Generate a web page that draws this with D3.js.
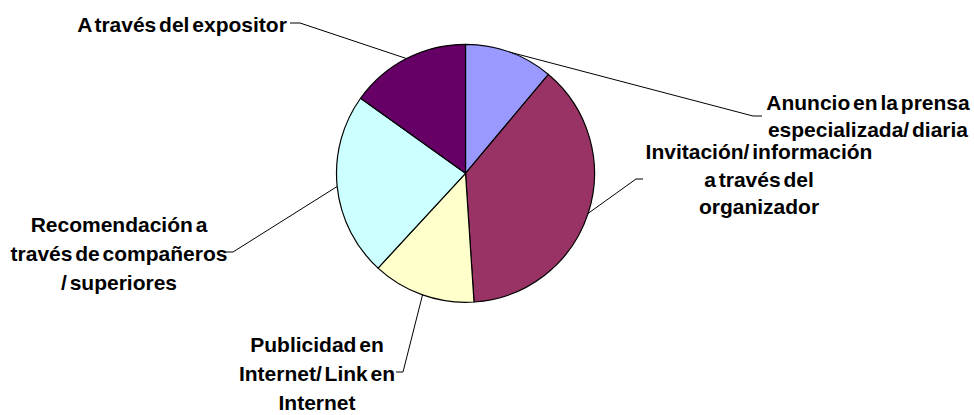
<!DOCTYPE html>
<html>
<head>
<meta charset="utf-8">
<script src="https://cdn.jsdelivr.net/npm/d3@7"></script>
<style>
  html, body { margin: 0; padding: 0; background: #fff; }
  svg { display: block; }
  text { font-family: "Liberation Sans", Arial, sans-serif; font-weight: bold; font-size: 21px; word-spacing: -3px; fill: #000; }
</style>
</head>
<body>
<svg id="chart" width="974" height="415"></svg>
<script>
// ---- data (clockwise from 12 o'clock) ----
const categories = [
  "Anuncio en la prensa especializada/ diaria",
  "Invitación/ información a través del organizador",
  "Publicidad en Internet/ Link en Internet",
  "Recomendación a través de compañeros / superiores",
  "A través del expositor"
];
const values = [11.1, 37.8, 12.9, 23.0, 15.1];
const labelLines = [
  ["Anuncio en la prensa", "especializada/ diaria"],
  ["Invitación/ información", "a través del", "organizador"],
  ["Publicidad en", "Internet/ Link en", "Internet"],
  ["Recomendación a", "través de compañeros", "/ superiores"],
  ["A través del expositor"]
];
const colors = ["#9999FF", "#993366", "#FFFFCC", "#CCFFFF", "#660066"];

// ---- layout (label anchor, first baseline, line step, leader elbow & end) ----
const labelLayout = [
  { cx: 868, y: 110, step: 27, elbow: [753, 116], end: [762, 116] },
  { cx: 759, y: 159, step: 27.5, elbow: [636, 179], end: [643, 179] },
  { cx: 317, y: 352, step: 29, elbow: [403, 372], end: [396, 372] },
  { cx: 119, y: 232, step: 29, elbow: [233, 252], end: [225, 252] },
  { cx: 182, y: 31.5, step: 28, elbow: [300, 23], end: [290, 23] }
];

const svg = d3.select("#chart");
const cx = 465.5, cy = 173.3, r = 129;

const pie = d3.pie().sort(null).value(d => d);
const arcs = pie(values);
const arc = d3.arc().innerRadius(0).outerRadius(r);
const edgeArc = d3.arc().innerRadius(r).outerRadius(r);

const g = svg.append("g").attr("transform", `translate(${cx},${cy})`);

g.selectAll("path.slice")
  .data(arcs)
  .join("path")
  .attr("class", "slice")
  .attr("d", arc)
  .attr("fill", (d, i) => colors[i])
  .attr("stroke", "#000")
  .attr("stroke-width", 1.2)
  .attr("stroke-linejoin", "round");

// leader lines
const line = d3.line();
svg.selectAll("path.leader")
  .data(arcs)
  .join("path")
  .attr("class", "leader")
  .attr("d", (d, i) => {
    const c = edgeArc.centroid(d);
    const L = labelLayout[i];
    return line([[cx + c[0], cy + c[1]], L.elbow, L.end]);
  })
  .attr("fill", "none")
  .attr("stroke", "#000")
  .attr("stroke-width", 1);

// labels
svg.selectAll("text.lbl")
  .data(labelLines)
  .join("text")
  .attr("class", "lbl")
  .attr("text-anchor", "middle")
  .each(function (lines, i) {
    const L = labelLayout[i];
    d3.select(this).selectAll("tspan")
      .data(lines)
      .join("tspan")
      .attr("x", L.cx)
      .attr("y", (s, j) => L.y + j * L.step)
      .text(s => s);
  });
</script>
</body>
</html>
